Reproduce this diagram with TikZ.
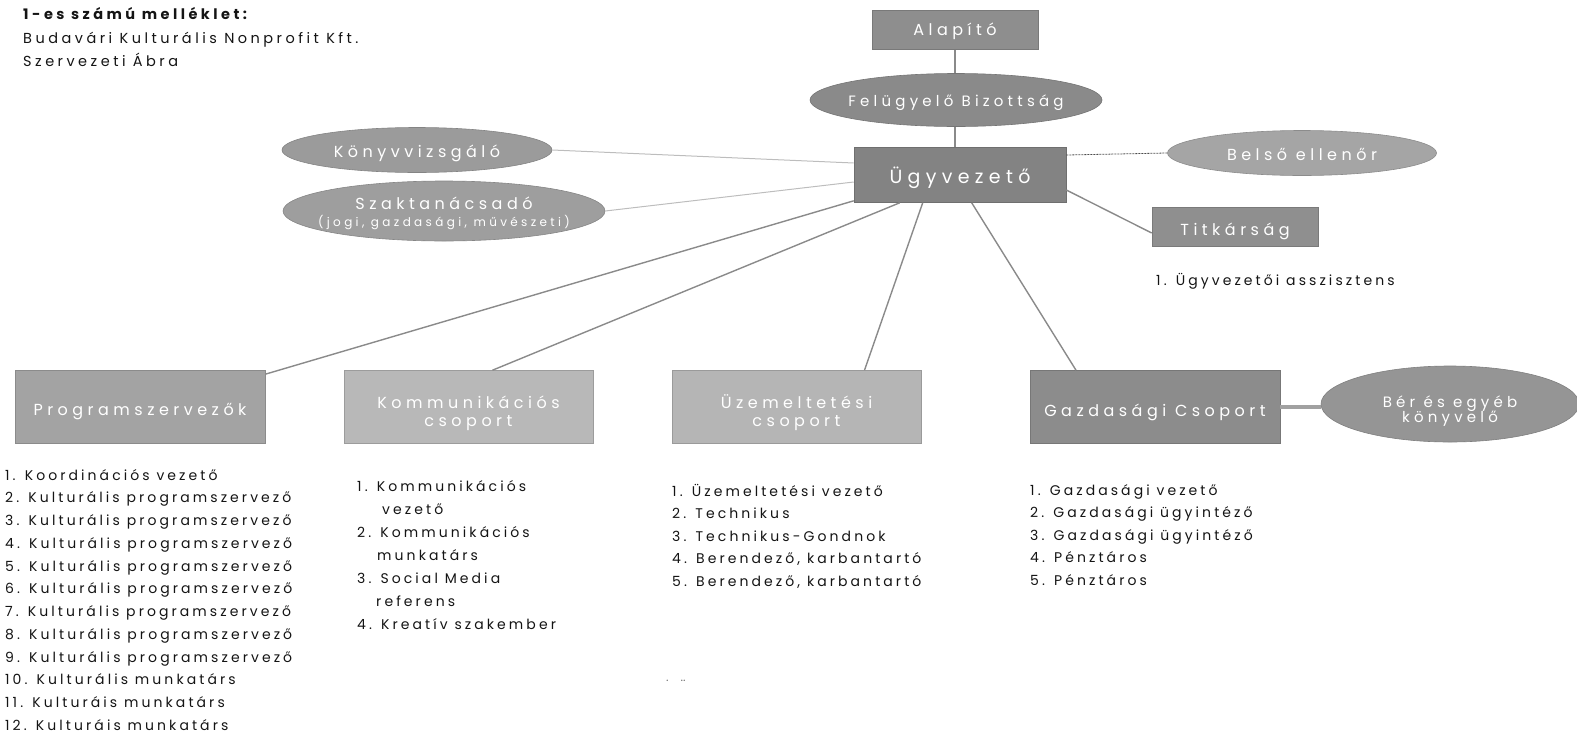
\documentclass[tikz,border=0pt]{standalone}
\usepackage{fontspec}
\setmainfont{Poppins}
\newfontfamily\lst{Poppins}[LetterSpace=22]
\newfontfamily\ttlf{Poppins}[LetterSpace=24]
\newfontfamily\bx{Poppins}[LetterSpace=28]
\usetikzlibrary{shapes.geometric,calc}
\definecolor{cAlap}{HTML}{8E8E8E}
\definecolor{cFB}{HTML}{8A8A8A}
\definecolor{cUgy}{HTML}{838383}
\definecolor{cBel}{HTML}{A5A5A5}
\definecolor{cTit}{HTML}{8F8F8F}
\definecolor{cKony}{HTML}{9B9B9B}
\definecolor{cSzak}{HTML}{9E9E9E}
\definecolor{cProg}{HTML}{A3A3A3}
\definecolor{cKomm}{HTML}{B8B8B8}
\definecolor{cUzem}{HTML}{B5B5B5}
\definecolor{cGazd}{HTML}{8C8C8C}
\definecolor{cBer}{HTML}{959595}
\definecolor{lineC}{HTML}{8A8A8A}
\definecolor{faintC}{HTML}{BDBDBD}
\definecolor{txt}{HTML}{141414}
\begin{document}
\begin{tikzpicture}[x=1pt,y=-1pt,
  lbl/.style={text=white, inner sep=0pt, align=center, font=\bx\fontsize{16}{18}\selectfont},
  rbox/.style={rectangle, draw=#1!85!black, line width=0.6pt, fill=#1, inner sep=0pt},
  ell/.style={ellipse, draw=#1!85!black, line width=0.6pt, fill=#1, inner sep=0pt},
  mainline/.style={draw=lineC, line width=2.5pt},
  link/.style={draw=lineC, line width=1.4pt},
  faint/.style={draw=faintC, line width=1pt},
  dline/.style={draw=black!70, line width=0.8pt, dash pattern=on 2pt off 1pt},
  li/.style={anchor=base west, inner sep=0pt, font=\lst\fontsize{14}{14}\selectfont, text=txt},
  ttl/.style={anchor=base west, inner sep=0pt, font=\ttlf\fontsize{14.5}{14.5}\selectfont, text=txt}]
\useasboundingbox (0,0) rectangle (1577,737);

% title
\node[ttl, font=\ttlf\bfseries\fontsize{14.5}{14.5}\selectfont] (t1) at (23,19) {1-es számú melléklet:};
\node[ttl] (t2) at (23,43) {Budavári Kulturális Nonprofit Kft.};
\node[ttl] (t3) at (23,66) {Szervezeti Ábra};

% top nodes
\node[rbox=cAlap, minimum width=166pt, minimum height=39pt,
  label={[lbl, yshift=-1pt]center:Alapító}] (alap) at (955,30) {};
\node[ell=cFB, minimum width=292pt, minimum height=53pt,
  label={[lbl, yshift=-3pt, font=\bx\fontsize{15}{15}\selectfont]center:Felügyelő Bizottság}] (fb) at (956,100) {};
\node[rbox=cUgy, minimum width=212pt, minimum height=55pt,
  label={[lbl, yshift=-3pt, font=\bx\fontsize{19}{19}\selectfont]center:Ügyvezető}] (ugy) at (960,175) {};
\node[ell=cBel, minimum width=269pt, minimum height=45pt,
  label={[lbl, yshift=-1pt]center:Belső ellenőr}] (bel) at (1302,153) {};
\node[rbox=cTit, minimum width=166pt, minimum height=39pt,
  label={[lbl, yshift=-4pt]center:Titkárság}] (tit) at (1235,227) {};
\node[ell=cKony, minimum width=270pt, minimum height=45pt,
  label={[lbl, yshift=-3pt]center:Könyvvizsgáló}] (kony) at (417,150) {};
\node[ell=cSzak, minimum width=322pt, minimum height=60pt,
  label={[lbl, yshift=-2pt]center:{Szaktanácsadó\\[-1pt]{\bx\fontsize{12}{12}\selectfont (jogi, gazdasági, művészeti)}}}] (szak) at (444,211) {};

% bottom boxes
\node[rbox=cProg, minimum width=250pt, minimum height=73pt,
  label={[lbl, yshift=-5pt]center:Programszervezők}] (prog) at (140,407) {};
\node[rbox=cKomm, minimum width=249pt, minimum height=73pt,
  label={[lbl, yshift=-6pt]center:Kommunikációs\\[0pt]csoport}] (komm) at (468.5,407) {};
\node[rbox=cUzem, minimum width=249pt, minimum height=73pt,
  label={[lbl, yshift=-6pt]center:Üzemeltetési\\[0pt]csoport}] (uzem) at (796.5,407) {};
\node[rbox=cGazd, minimum width=250pt, minimum height=73pt,
  label={[lbl, yshift=-5pt]center:Gazdasági Csoport}] (gazd) at (1155,407) {};
\node[ell=cBer, minimum width=258pt, minimum height=76pt,
  label={[lbl, yshift=-7pt, font=\bx\fontsize{15}{15}\selectfont]center:Bér és egyéb\\[-1pt]könyvelő}] (ber) at (1450,404) {};

% connectors
\draw[mainline] (alap.south) -- (alap.south |- fb.north);
\draw[mainline] (alap.south |- fb.south) -- (alap.south |- ugy.north);
\draw[faint] (kony.east) -- ($(ugy.west)+(0,-12)$);
\draw[faint] (szak.east) -- ($(ugy.west)+(0,7)$);
\draw[link] ($(ugy.south west)+(0,-2)$) -- ($(prog.north east)+(0,4)$);
\draw[link] ($(ugy.south west)+(46,0)$) -- ($(komm.north)+(24,0)$);
\draw[link] ($(ugy.south west)+(69,0)$) -- ($(uzem.north)+(68,0)$);
\draw[link] ($(ugy.south west)+(118,0)$) -- ($(gazd.north)+(-79,0)$);
\draw[link] ($(ugy.east)+(0,15)$) -- ($(tit.west)+(0,6)$);
\draw[dline] ($(ugy.east)+(0,-20)$) -- (bel.west);
\draw[draw=lineC!80, line width=4pt] (gazd.east) -- (gazd.east -| ber.west);

% assistant
\node[li] (asz) at (1156,285) {1. Ügyvezetői asszisztens};

% lists
\foreach \t [count=\i] in {1. Koordinációs vezető, 2. Kulturális programszervező, 3. Kulturális programszervező, 4. Kulturális programszervező, 5. Kulturális programszervező, 6. Kulturális programszervező, 7. Kulturális programszervező, 8. Kulturális programszervező, 9. Kulturális programszervező, 10. Kulturális munkatárs, 11. Kulturáis munkatárs, 12. Kulturáis munkatárs}
  \node[li] (pl\i) at (5,{480+22.75*(\i-1)}) {\t};

\node[li] (kl1) at (357,491) {1. Kommunikációs};
\node[li] (kl2) at (382,514) {vezető};
\node[li] (kl3) at (357,537) {2. Kommunikációs};
\node[li] (kl4) at (377,560) {munkatárs};
\node[li] (kl5) at (357,583) {3. Social Media};
\node[li] (kl6) at (376,606) {referens};
\node[li] (kl7) at (357,629) {4. Kreatív szakember};

\foreach \t [count=\i] in {1. Üzemeltetési vezető, 2. Technikus, 3. Technikus-Gondnok, 4. Berendező{,} karbantartó, 5. Berendező{,} karbantartó}
  \node[li] (ul\i) at (672,{496+22.6*(\i-1)}) {\t};

\foreach \t [count=\i] in {1. Gazdasági vezető, 2. Gazdasági ügyintéző, 3. Gazdasági ügyintéző, 4. Pénztáros, 5. Pénztáros}
  \node[li] (gl\i) at (1030,{495+22.6*(\i-1)}) {\t};

\node[li, font=\fontsize{12}{12}\selectfont, text=black!55] (dots) at (666,681) {.\hspace{12pt}..};
\end{tikzpicture}
\end{document}
